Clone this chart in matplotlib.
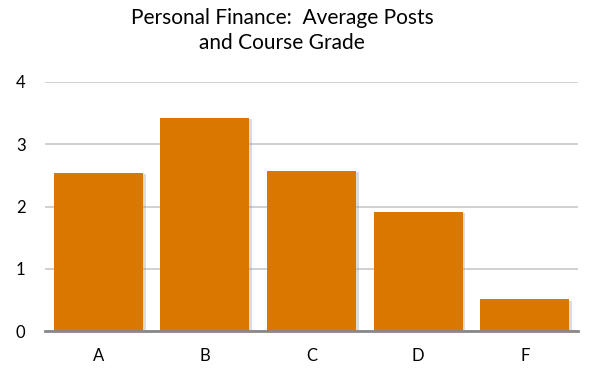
import matplotlib.pyplot as plt
import matplotlib.patheffects as pe

plt.rcParams['font.family'] = ['Lato', 'DejaVu Sans']

grades = ['A', 'B', 'C', 'D', 'F']
avg_posts = [2.54, 3.42, 2.57, 1.91, 0.51]
yticks = [0, 1, 2, 3, 4]

fig = plt.figure(figsize=(6, 3.91), dpi=100)
ax = fig.add_axes([45 / 600, 1 - 331 / 391, 533 / 600, (331 - 82) / 391])

shadow = [pe.SimplePatchShadow(offset=(2, -1), shadow_rgbFace='#999999', alpha=0.35), pe.Normal()]
bars = ax.bar(range(len(grades)), avg_posts, width=0.835, color='#D97700', zorder=3)
for b in bars:
    b.set_path_effects(shadow)

ax.set_xlim(-0.5, len(grades) - 0.5)
ax.set_ylim(0, 4)
ax.set_yticks(yticks)
ax.set_xticks(range(len(grades)))
ax.set_xticklabels(grades, fontsize=12)
ax.set_yticklabels([str(t) for t in yticks], fontsize=12)
ax.yaxis.grid(True, color='#c8c8c8', linewidth=1.2, zorder=0)
ax.tick_params(axis='both', length=0)
ax.tick_params(axis='x', pad=12)
ax.tick_params(axis='y', pad=14)

for s in ['top', 'right', 'left']:
    ax.spines[s].set_visible(False)
ax.spines['bottom'].set_color('#888888')
ax.spines['bottom'].set_linewidth(2)
ax.spines['bottom'].set_zorder(4)

fig.suptitle('Personal Finance:  Average Posts\nand Course Grade', fontsize=15, x=0.47, y=0.98, linespacing=1.3)

fig.savefig('out.png', dpi=100, facecolor='white')
